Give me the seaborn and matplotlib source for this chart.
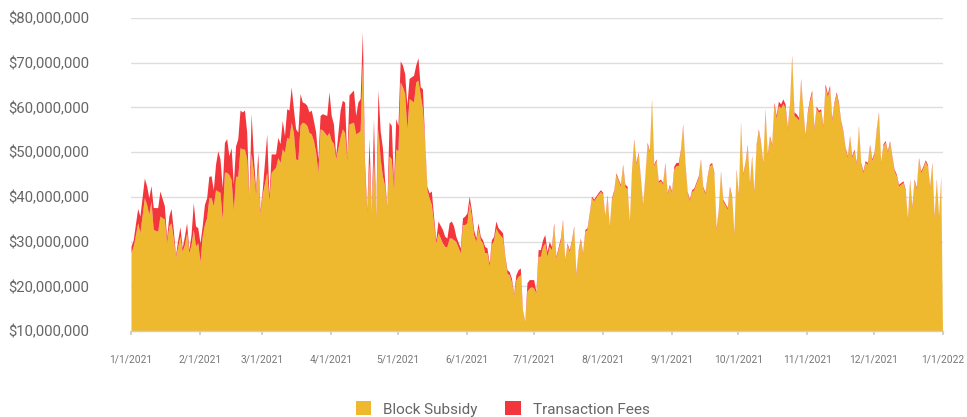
import numpy as np
import pandas as pd
import matplotlib
matplotlib.use("Agg")
import matplotlib.pyplot as plt
import matplotlib.ticker as mticker
from matplotlib.patches import Patch
import seaborn as sns

# days since 1/1/2021, values in $ millions
day = [0, 1, 2, 3, 4, 6, 7, 8, 9, 10,
       12, 13, 15, 16, 17, 18, 19, 20, 21, 22,
       23, 24, 25, 26, 27, 28, 29, 30, 31, 32,
       33, 34, 35, 36, 37, 38, 39, 40, 41, 42,
       43, 44, 45, 46, 47, 48, 49, 50, 51, 52,
       53, 54, 55, 56, 57, 58, 59, 61, 62, 63,
       65, 66, 67, 68, 69, 70, 71, 72, 73, 74,
       75, 76, 77, 78, 79, 80, 81, 82, 83, 84,
       85, 86, 88, 89, 90, 91, 92, 94, 95, 96,
       97, 98, 100, 101, 102, 103, 104, 105, 106, 107,
       108, 109, 110, 111, 112, 113, 114, 115, 116, 117,
       118, 119, 120, 121, 122, 123, 124, 125, 127, 128,
       129, 130, 131, 132, 133, 134, 135, 136, 137, 138,
       140, 141, 142, 143, 144, 145, 146, 148, 149, 150,
       151, 152, 153, 154, 155, 156, 157, 158, 159, 160,
       161, 162, 163, 164, 165, 167, 168, 169, 170, 171,
       172, 173, 174, 175, 176, 177, 178, 179, 180, 181,
       182, 183, 184, 185, 186, 187, 188, 189, 190, 191,
       193, 194, 195, 196, 197, 198, 199, 200, 201, 202,
       203, 204, 205, 206, 207, 208, 210, 211, 212, 213,
       214, 215, 216, 217, 218, 219, 220, 221, 222, 223,
       224, 225, 226, 227, 228, 230, 231, 232, 233, 234,
       235, 236, 237, 238, 239, 240, 241, 242, 243, 244,
       245, 246, 247, 248, 249, 250, 251, 252, 253, 255,
       256, 257, 258, 259, 260, 261, 262, 263, 264, 265,
       266, 268, 269, 270, 271, 272, 273, 274, 275, 276,
       277, 278, 279, 280, 281, 282, 283, 284, 285, 286,
       287, 288, 289, 290, 291, 292, 293, 294, 295, 296,
       297, 298, 299, 300, 301, 302, 303, 304, 305, 306,
       307, 308, 309, 310, 311, 312, 313, 314, 315, 316,
       317, 318, 319, 320, 321, 322, 323, 324, 325, 326,
       327, 328, 329, 330, 331, 332, 333, 334, 335, 336,
       337, 338, 339, 340, 341, 342, 343, 344, 345, 346,
       347, 348, 349, 350, 351, 352, 353, 354, 355, 356,
       357, 358, 359, 360, 361, 362, 363, 364, 365]

block_subsidy = [27.5, 29.0, 31.5, 34.2, 32.0, 39.8, 38.3, 36.1, 39.0, 32.7,
                 32.3, 35.7, 35.0, 29.7, 33.5, 34.2, 30.8, 26.5, 28.9, 31.2,
                 27.8, 29.3, 32.0, 27.5, 29.3, 32.7, 29.0, 29.7, 25.5, 31.2,
                 33.8, 35.3, 39.8, 39.8, 38.0, 41.6, 41.3, 41.0, 35.0, 45.5,
                 45.5, 45.0, 43.9, 37.0, 44.6, 44.6, 51.0, 50.7, 50.7, 48.5,
                 39.1, 49.8, 45.5, 40.5, 46.9, 36.4, 40.5, 45.5, 39.2, 45.5,
                 46.6, 48.8, 47.7, 50.7, 50.0, 53.3, 53.0, 56.7, 54.4, 48.5,
                 48.2, 56.0, 56.7, 56.5, 56.0, 54.4, 54.1, 52.6, 50.0, 45.5,
                 55.2, 55.0, 53.7, 54.4, 52.6, 51.9, 48.5, 53.3, 55.2, 54.4,
                 48.1, 56.3, 56.7, 54.1, 54.4, 54.8, 70.2, 45.5, 36.4, 47.7,
                 36.0, 49.2, 35.4, 55.2, 48.5, 44.7, 42.4, 37.5, 49.2, 48.5,
                 41.6, 50.7, 50.3, 65.7, 64.6, 63.1, 55.2, 62.0, 61.2, 65.7,
                 66.1, 62.8, 59.7, 51.9, 41.6, 39.8, 38.3, 34.2, 29.7, 32.0,
                 29.7, 28.9, 28.9, 30.8, 30.8, 30.4, 30.0, 27.5, 33.8, 33.8,
                 34.2, 38.7, 35.7, 31.5, 30.0, 33.0, 30.4, 29.7, 27.5, 27.5,
                 24.5, 29.3, 30.4, 33.0, 32.0, 30.8, 26.6, 22.9, 22.6, 21.0,
                 18.0, 21.4, 22.2, 22.6, 14.3, 12.0, 18.9, 19.6, 19.9, 19.6,
                 18.5, 26.7, 26.7, 28.9, 29.7, 26.7, 28.9, 28.2, 33.5, 26.3,
                 30.2, 34.6, 25.5, 29.3, 27.8, 30.0, 33.1, 22.5, 27.8, 30.4,
                 27.1, 32.3, 32.7, 36.1, 39.8, 39.1, 40.6, 41.2, 40.6, 35.3,
                 40.1, 33.1, 39.4, 41.2, 45.0, 43.6, 42.4, 46.9, 42.2, 41.8,
                 34.1, 45.8, 52.6, 47.3, 49.6, 37.9, 44.3, 51.8, 49.9, 61.5,
                 46.9, 48.1, 43.2, 43.6, 42.8, 47.3, 40.6, 42.4, 40.9, 46.2,
                 47.0, 47.0, 50.3, 55.9, 47.3, 40.9, 39.1, 41.2, 41.6, 44.3,
                 48.1, 42.0, 40.6, 44.3, 46.9, 47.3, 45.1, 32.7, 36.8, 45.4,
                 39.1, 37.2, 42.0, 39.8, 31.6, 45.8, 40.2, 56.3, 44.8, 47.3,
                 51.4, 42.8, 48.8, 40.9, 51.4, 54.8, 51.8, 47.3, 59.3, 49.2,
                 53.3, 51.4, 60.6, 57.6, 60.4, 59.9, 60.9, 59.9, 55.0, 60.3,
                 71.2, 58.2, 57.8, 57.2, 66.0, 59.2, 53.2, 58.4, 61.3, 63.3,
                 55.0, 59.8, 58.9, 59.2, 55.5, 64.5, 62.4, 64.3, 57.0, 60.7,
                 63.0, 60.7, 56.7, 54.4, 50.7, 48.8, 53.3, 48.8, 50.3, 47.3,
                 55.6, 47.3, 45.4, 47.7, 47.3, 51.4, 48.1, 49.6, 54.8, 58.6,
                 47.3, 51.4, 52.2, 49.9, 52.2, 48.8, 45.8, 44.7, 42.4, 42.8,
                 43.2, 41.3, 34.9, 43.6, 37.5, 43.6, 41.7, 48.4, 45.4, 46.5,
                 47.9, 46.9, 42.0, 47.3, 35.3, 43.6, 35.3, 44.0, 0.0]

transaction_fees = [1.5, 1.4, 2.5, 3.2, 3.7, 4.4, 4.2, 3.7, 3.5, 4.9,
                    5.3, 5.6, 3.0, 1.1, 2.2, 3.2, 1.9, 0.5, 1.5, 2.1,
                    0.8, 1.9, 2.2, 0.7, 2.3, 6.0, 4.5, 3.4, 4.2, 2.3,
                    4.5, 4.5, 4.8, 4.9, 3.6, 5.7, 9.0, 7.5, 7.1, 6.7,
                    7.5, 4.2, 7.1, 5.8, 6.8, 8.4, 8.4, 8.3, 8.7, 6.0,
                    0.4, 8.8, 3.7, 1.1, 3.1, 0.7, 1.1, 8.6, 1.0, 4.1,
                    3.0, 4.5, 4.2, 6.4, 3.7, 6.4, 6.4, 7.9, 5.3, 6.7,
                    6.3, 7.1, 4.5, 4.5, 4.5, 4.6, 5.3, 4.5, 4.5, 3.0,
                    3.0, 3.6, 4.5, 9.1, 5.6, 4.4, 0.7, 6.1, 6.4, 6.8,
                    0.7, 6.5, 7.2, 4.1, 6.8, 7.2, 6.8, 2.2, 0.7, 5.3,
                    0.3, 8.3, 0.3, 8.7, 6.3, 6.3, 1.5, 0.4, 7.5, 7.5,
                    1.6, 6.8, 5.7, 4.7, 4.9, 4.5, 5.3, 4.5, 6.0, 3.8,
                    5.0, 1.8, 4.5, 0.7, 0.8, 1.1, 3.0, 1.5, 0.7, 2.6,
                    3.0, 2.3, 1.9, 3.4, 3.8, 3.1, 1.2, 1.1, 1.5, 1.9,
                    2.2, 1.5, 1.3, 1.2, 0.8, 1.2, 0.8, 0.7, 1.4, 1.1,
                    0.7, 1.1, 0.8, 1.6, 1.1, 1.2, 0.4, 0.8, 0.7, 0.8,
                    0.4, 1.2, 1.5, 1.5, 0.3, 0.2, 1.9, 1.9, 1.6, 1.9,
                    0.4, 1.5, 1.5, 1.5, 1.9, 1.1, 1.1, 0.7, 0.7, 0.4,
                    0.6, 0.4, 0.4, 0.4, 0.4, 0.4, 0.4, 0.4, 0.4, 0.4,
                    0.4, 0.4, 0.4, 0.4, 0.4, 0.4, 0.4, 0.4, 0.4, 0.4,
                    0.4, 0.4, 0.4, 0.4, 0.4, 0.4, 0.4, 0.4, 0.6, 0.6,
                    0.4, 0.4, 0.4, 0.4, 0.4, 0.4, 0.4, 0.4, 0.4, 0.4,
                    0.4, 0.4, 0.4, 0.4, 0.4, 0.4, 0.4, 0.4, 0.4, 0.7,
                    0.7, 0.7, 0.4, 0.4, 0.4, 0.4, 0.4, 0.4, 0.4, 0.4,
                    0.4, 0.4, 0.4, 0.4, 0.4, 0.4, 0.4, 0.4, 0.4, 0.4,
                    0.4, 0.4, 0.4, 0.4, 0.4, 0.4, 0.4, 0.4, 0.4, 0.4,
                    0.4, 0.4, 0.4, 0.4, 0.4, 0.4, 0.4, 0.4, 0.4, 0.4,
                    0.4, 0.4, 0.6, 0.6, 1.0, 0.9, 1.0, 0.9, 0.5, 0.5,
                    0.5, 0.8, 0.8, 0.6, 0.5, 0.5, 0.5, 0.6, 0.6, 0.6,
                    0.5, 0.5, 0.5, 0.5, 0.5, 0.8, 0.7, 0.7, 0.5, 0.5,
                    0.5, 0.5, 0.4, 0.4, 0.4, 0.4, 0.4, 0.4, 0.4, 0.4,
                    0.4, 0.4, 0.4, 0.4, 0.4, 0.4, 0.4, 0.4, 0.4, 0.4,
                    0.4, 0.4, 0.4, 0.4, 0.4, 0.4, 0.4, 0.4, 0.4, 0.4,
                    0.4, 0.4, 0.4, 0.4, 0.4, 0.4, 0.4, 0.4, 0.4, 0.4,
                    0.4, 0.4, 0.4, 0.4, 0.4, 0.4, 0.4, 0.4, 0.0]

series_names = ["Block Subsidy", "Transaction Fees"]
colors = ["#efb92f", "#f2363b"]
y_ticks = [10e6, 20e6, 30e6, 40e6, 50e6, 60e6, 70e6, 80e6]

sns.set_theme(style="whitegrid")
plt.rcParams['font.family'] = ['Roboto', 'DejaVu Sans']

dates = pd.Timestamp("2021-01-01") + pd.to_timedelta(day, unit="D")
df = pd.DataFrame({series_names[0]: np.array(block_subsidy) * 1e6,
                   series_names[1]: np.array(transaction_fees) * 1e6},
                  index=dates)

fig = plt.figure(figsize=(9.67, 4.17), dpi=100)
ax = fig.add_axes([131 / 967, 1 - 331 / 417, 812 / 967, 313 / 417])

ax.stackplot(df.index, df[series_names[0]], df[series_names[1]],
             colors=colors, linewidth=0, antialiased=True)

ax.set_ylim(10e6, 80e6)
ax.set_xlim(pd.Timestamp("2021-01-01"), pd.Timestamp("2022-01-01"))
ax.set_yticks(y_ticks)
ax.yaxis.set_major_formatter(mticker.StrMethodFormatter("${x:,.0f}"))

month_starts = pd.date_range("2021-01-01", "2022-01-01", freq="MS")
ax.set_xticks(month_starts)
ax.set_xticklabels([f"{d.month}/{d.day}/{d.year}" for d in month_starts])

ax.set_axisbelow(True)
ax.grid(axis="y", color="#dedede", linewidth=1)
ax.grid(axis="x", visible=False)
for side in ["left", "right", "top"]:
    ax.spines[side].set_visible(False)
ax.spines["bottom"].set_color("#cccccc")
ax.spines["bottom"].set_linewidth(1)

ax.tick_params(axis="y", labelsize=10.7, labelcolor="#666666", pad=30, length=0)
ax.tick_params(axis="x", labelsize=7.4, labelcolor="#777777", pad=14,
               length=3, color="#cccccc", bottom=True)
ax.set_xlabel("")
ax.set_ylabel("")

handles = [Patch(facecolor=c, edgecolor="none") for c in colors]
fig.legend(handles, series_names, loc="center", bbox_to_anchor=(0.52, 1 - 409 / 417),
           ncol=2, frameon=False, fontsize=11, handlelength=1.0, handleheight=1.0,
           handletextpad=0.8, columnspacing=1.8, labelcolor="#666666")

fig.savefig("out.png", dpi=100)
